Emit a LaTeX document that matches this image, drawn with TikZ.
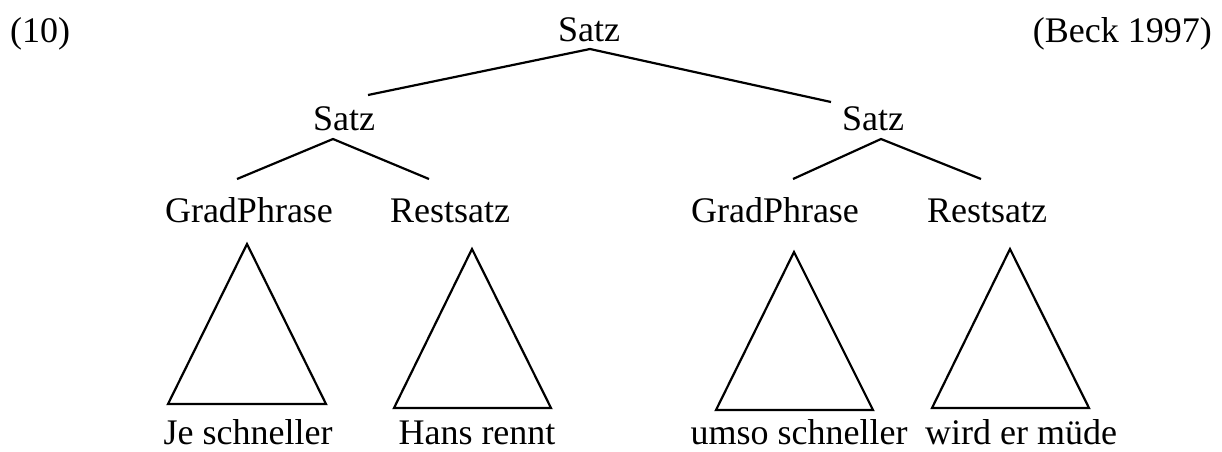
\documentclass[tikz,border=0pt]{standalone}
\usepackage{fontspec}
\setmainfont{Liberation Serif}
\begin{document}
\begin{tikzpicture}[x=1pt,y=-1pt,
  lbl/.style={inner sep=0pt,anchor=base,font=\fontsize{36}{40}\selectfont},
  edge/.style={line width=2.2pt,line join=miter},
  roof/.style={line width=2.2pt,line join=miter}]
\useasboundingbox (0,0) rectangle (1222,451);

% labels
\node[lbl,anchor=base west] (num) at (10,42) {(10)};
\node[lbl,anchor=base east] (src) at (1212,42) {(Beck 1997)};
\node[lbl] (root) at (589,41) {Satz};
\node[lbl] (sL) at (344,130) {Satz};
\node[lbl] (sR) at (873,130) {Satz};
\node[lbl] (gL) at (249,222) {GradPhrase};
\node[lbl] (rL) at (450,222) {Restsatz};
\node[lbl] (gR) at (775,222) {GradPhrase};
\node[lbl] (rR) at (987,222) {Restsatz};
\node[lbl] (wA) at (248,444) {Je schneller};
\node[lbl] (wB) at (477,444) {Hans rennt};
\node[lbl] (wC) at (799,444) {umso schneller};
\node[lbl] (wD) at (1021,444) {wird er müde};

% branch end points
\coordinate (rootA) at (590,49);
\coordinate (rootL) at (368,95);
\coordinate (rootR) at (831,102);
\coordinate (sLA) at (333,139);
\coordinate (sLl) at (237,179);
\coordinate (sLr) at (429,179);
\coordinate (sRA) at (881,139);
\coordinate (sRl) at (793,179);
\coordinate (sRr) at (981,179);

\draw[edge] (rootL) -- (rootA) -- (rootR);
\draw[edge] (sLl) -- (sLA) -- (sLr);
\draw[edge] (sRl) -- (sRA) -- (sRr);

% triangles over the terminal strings
\draw[roof] (247,244) -- (168,404) -- (326,404) -- cycle;
\draw[roof] (472,249) -- (394,408) -- (551,408) -- cycle;
\draw[roof] (794,252) -- (716,410) -- (873,410) -- cycle;
\draw[roof] (1010,249) -- (932,408) -- (1089,408) -- cycle;
\end{tikzpicture}
\end{document}
